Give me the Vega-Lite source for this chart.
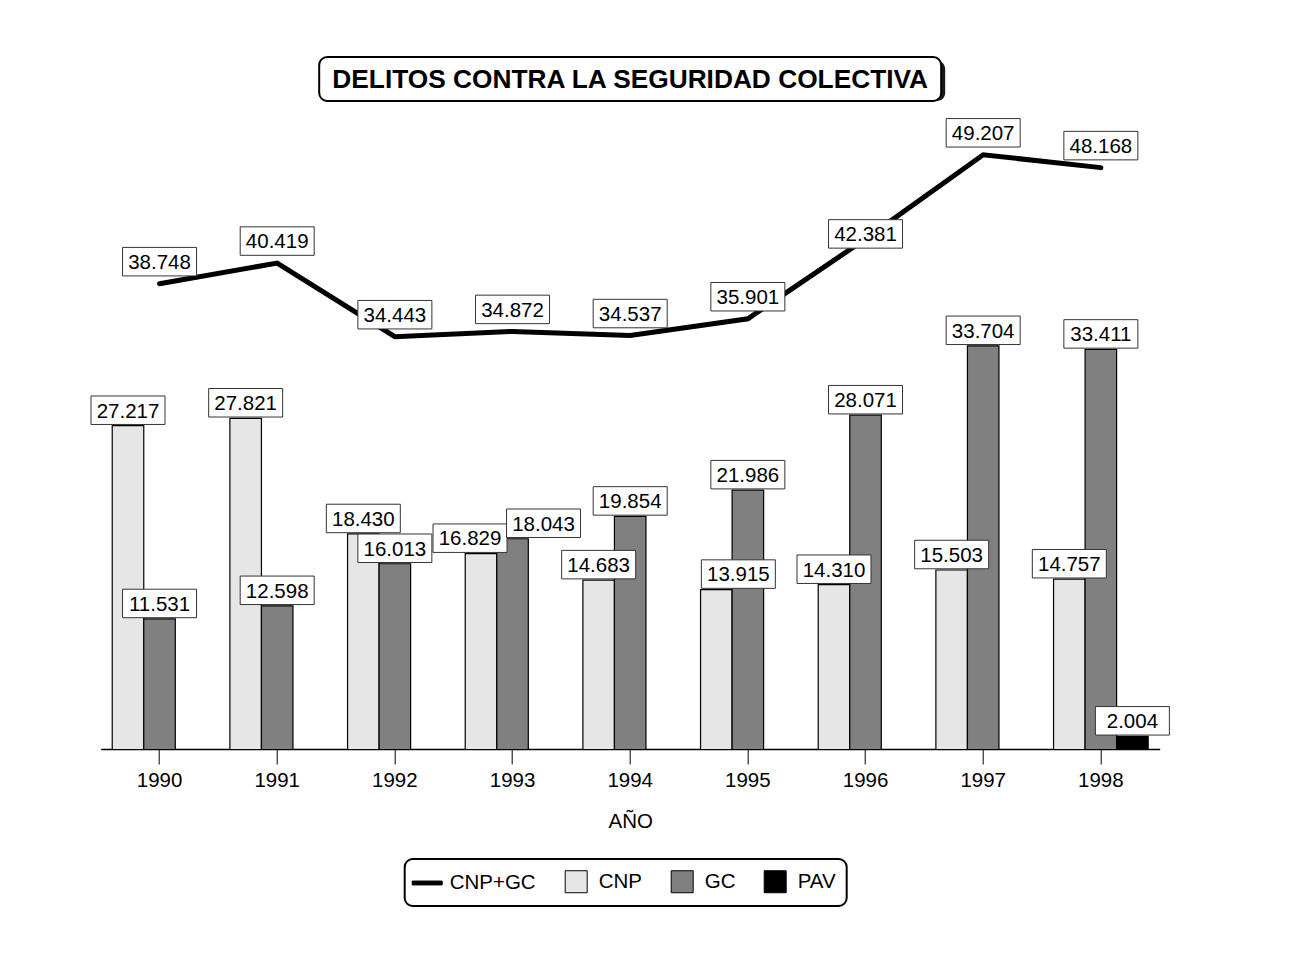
{
  "$schema": "https://vega.github.io/schema/vega-lite/v6.json",
  "background": "white",
  "padding": {"left": 88.7, "top": 56, "right": 10, "bottom": 10},
  "config": {
    "font": "Liberation Sans",
    "view": {"stroke": null},
    "locale": {"number": {"decimal": ",", "thousands": ".", "grouping": [3], "currency": ["", " €"]}}
  },
  "datasets": {
    "delitos": [
      {"year": "1990", "serie": "CNP", "value": 27217},
      {"year": "1991", "serie": "CNP", "value": 27821},
      {"year": "1992", "serie": "CNP", "value": 18430},
      {"year": "1993", "serie": "CNP", "value": 16829},
      {"year": "1994", "serie": "CNP", "value": 14683},
      {"year": "1995", "serie": "CNP", "value": 13915},
      {"year": "1996", "serie": "CNP", "value": 14310},
      {"year": "1997", "serie": "CNP", "value": 15503},
      {"year": "1998", "serie": "CNP", "value": 14757},
      {"year": "1990", "serie": "GC", "value": 11531},
      {"year": "1991", "serie": "GC", "value": 12598},
      {"year": "1992", "serie": "GC", "value": 16013},
      {"year": "1993", "serie": "GC", "value": 18043},
      {"year": "1994", "serie": "GC", "value": 19854},
      {"year": "1995", "serie": "GC", "value": 21986},
      {"year": "1996", "serie": "GC", "value": 28071},
      {"year": "1997", "serie": "GC", "value": 33704},
      {"year": "1998", "serie": "GC", "value": 33411},
      {"year": "1998", "serie": "PAV", "value": 2004},
      {"year": "1990", "serie": "CNP+GC", "value": 38748},
      {"year": "1991", "serie": "CNP+GC", "value": 40419},
      {"year": "1992", "serie": "CNP+GC", "value": 34443},
      {"year": "1993", "serie": "CNP+GC", "value": 34872},
      {"year": "1994", "serie": "CNP+GC", "value": 34537},
      {"year": "1995", "serie": "CNP+GC", "value": 35901},
      {"year": "1996", "serie": "CNP+GC", "value": 42381},
      {"year": "1997", "serie": "CNP+GC", "value": 49207},
      {"year": "1998", "serie": "CNP+GC", "value": 48168}
    ]
  },
  "spacing": 13,
  "center": true,
  "bounds": "flush",
  "vconcat": [
    {
      "width": 622,
      "height": 44,
      "data": {"values": [{"titulo": "DELITOS CONTRA LA SEGURIDAD COLECTIVA"}]},
      "layer": [
        {"mark": {"type": "rect", "fill": "#1a1a1a", "cornerRadius": 8, "xOffset": 4, "x2Offset": 4, "yOffset": 4, "y2Offset": 4}, "encoding": {}},
        {"mark": {"type": "rect", "fill": "white", "stroke": "black", "strokeWidth": 2, "cornerRadius": 8}, "encoding": {}},
        {"mark": {"type": "text", "fontSize": 26.3, "fontWeight": "bold", "font": "Liberation Sans", "baseline": "middle", "align": "center", "color": "black", "yOffset": 1},
         "encoding": {"text": {"field": "titulo"}}}
      ]
    },
    {
      "width": 1059,
      "height": 635,
      "data": {"name": "delitos"},
      "encoding": {
        "x": {"field": "year", "type": "ordinal",
          "scale": {"paddingInner": 0.196, "paddingOuter": 0.098},
          "axis": {"title": "AÑO", "titleFontSize": 20.5, "titleFont": "Liberation Sans", "titleFontWeight": "normal", "titleColor": "black", "titlePadding": 20,
            "labelFontSize": 20.5, "labelFont": "Liberation Sans", "labelColor": "black", "labelAngle": 0, "labelPadding": 7,
            "tickSize": 15, "tickColor": "black", "tickWidth": 1, "domainColor": "black", "domainWidth": 1.5, "grid": false}},
        "y": {"field": "value", "type": "quantitative", "scale": {"domain": [975, 52520], "zero": false, "nice": false}, "axis": null}
      },
      "layer": [
        {
          "transform": [{"filter": "datum.serie !== 'CNP+GC'"}],
          "mark": {"type": "bar", "stroke": "black", "strokeWidth": 1.2, "clip": true},
          "encoding": {
            "xOffset": {"field": "serie", "scale": {"domain": ["CNP", "GC", "PAV"]}},
            "color": {"field": "serie", "type": "nominal",
              "scale": {"domain": ["CNP+GC", "CNP", "GC", "PAV"], "range": ["#000000", "#e6e6e6", "#808080", "#000000"]},
              "legend": {
                "orient": "none", "legendX": 304, "legendY": 802, "direction": "horizontal", "columns": 4, "title": null,
                "labelFontSize": 20.5, "labelFont": "Liberation Sans", "labelColor": "black", "labelOffset": 11,
                "symbolType": "square", "symbolSize": 484, "symbolStrokeColor": "black", "symbolStrokeWidth": 1, "symbolOpacity": 1,
                "columnPadding": 26, "padding": 11, "strokeColor": "black", "fillColor": "white", "cornerRadius": 8,
                "encode": {
                  "symbols": {"update": {
                    "shape": {"signal": "datum.value === 'CNP+GC' ? 'M-1,-0.13L1,-0.13L1,0.13L-1,0.13Z' : 'square'"},
                    "size": {"signal": "datum.value === 'CNP+GC' ? 900 : 484"},
                    "stroke": {"value": "black"},
                    "strokeWidth": {"value": 1}
                  }},
                  "legend": {"update": {"strokeWidth": {"value": 2}}}
                }
              }
            }
          }
        },
        {
          "transform": [{"filter": "datum.serie === 'CNP+GC'"}],
          "mark": {"type": "line", "stroke": "black", "strokeWidth": 5, "strokeJoin": "miter", "strokeCap": "round"},
          "encoding": {}
        },
        {
          "transform": [{"filter": "datum.serie !== 'CNP+GC' && datum.year !== '1993' && !(datum.year === '1995' && datum.serie === 'CNP')"}],
          "mark": {"type": "point", "shape": "M-1,-0.385L1,-0.385L1,0.385L-1,0.385Z", "size": 5476, "filled": true, "fill": "white", "stroke": "#333333", "strokeWidth": 1, "opacity": 1, "yOffset": -15.5},
          "encoding": {"xOffset": {"field": "serie"}}
        },
        {
          "transform": [{"filter": "datum.serie !== 'CNP+GC' && datum.year !== '1993' && !(datum.year === '1995' && datum.serie === 'CNP')"}],
          "mark": {"type": "text", "fontSize": 20.5, "font": "Liberation Sans", "baseline": "alphabetic", "align": "center", "yOffset": -8.2, "color": "black"},
          "encoding": {"xOffset": {"field": "serie"}, "text": {"field": "value", "type": "quantitative", "format": ",d"}}
        },
        {
          "transform": [{"filter": "datum.year === '1993' && datum.serie === 'CNP'"}],
          "mark": {"type": "point", "shape": "M-1,-0.385L1,-0.385L1,0.385L-1,0.385Z", "size": 5476, "filled": true, "fill": "white", "stroke": "#333333", "strokeWidth": 1, "opacity": 1, "yOffset": -15.5, "xOffset": -42.5},
          "encoding": {}
        },
        {
          "transform": [{"filter": "datum.year === '1993' && datum.serie === 'CNP'"}],
          "mark": {"type": "text", "fontSize": 20.5, "font": "Liberation Sans", "baseline": "alphabetic", "align": "center", "yOffset": -8.2, "xOffset": -42.5, "color": "black"},
          "encoding": {"text": {"field": "value", "type": "quantitative", "format": ",d"}}
        },
        {
          "transform": [{"filter": "datum.year === '1993' && datum.serie === 'GC'"}],
          "mark": {"type": "point", "shape": "M-1,-0.385L1,-0.385L1,0.385L-1,0.385Z", "size": 5476, "filled": true, "fill": "white", "stroke": "#333333", "strokeWidth": 1, "opacity": 1, "yOffset": -15.5, "xOffset": 31},
          "encoding": {}
        },
        {
          "transform": [{"filter": "datum.year === '1993' && datum.serie === 'GC'"}],
          "mark": {"type": "text", "fontSize": 20.5, "font": "Liberation Sans", "baseline": "alphabetic", "align": "center", "yOffset": -8.2, "xOffset": 31, "color": "black"},
          "encoding": {"text": {"field": "value", "type": "quantitative", "format": ",d"}}
        },
        {
          "transform": [{"filter": "datum.year === '1995' && datum.serie === 'CNP'"}],
          "mark": {"type": "point", "shape": "M-1,-0.385L1,-0.385L1,0.385L-1,0.385Z", "size": 5476, "filled": true, "fill": "white", "stroke": "#333333", "strokeWidth": 1, "opacity": 1, "yOffset": -15.5, "xOffset": -9.5},
          "encoding": {}
        },
        {
          "transform": [{"filter": "datum.year === '1995' && datum.serie === 'CNP'"}],
          "mark": {"type": "text", "fontSize": 20.5, "font": "Liberation Sans", "baseline": "alphabetic", "align": "center", "yOffset": -8.2, "xOffset": -9.5, "color": "black"},
          "encoding": {"text": {"field": "value", "type": "quantitative", "format": ",d"}}
        },
        {
          "transform": [{"filter": "datum.serie === 'CNP+GC' && datum.year !== '1996'"}],
          "mark": {"type": "point", "shape": "M-1,-0.385L1,-0.385L1,0.385L-1,0.385Z", "size": 5476, "filled": true, "fill": "white", "stroke": "#333333", "strokeWidth": 1, "opacity": 1, "yOffset": -22},
          "encoding": {}
        },
        {
          "transform": [{"filter": "datum.serie === 'CNP+GC' && datum.year !== '1996'"}],
          "mark": {"type": "text", "fontSize": 20.5, "font": "Liberation Sans", "baseline": "alphabetic", "align": "center", "yOffset": -14.7, "color": "black"},
          "encoding": {"text": {"field": "value", "type": "quantitative", "format": ",d"}}
        },
        {
          "transform": [{"filter": "datum.serie === 'CNP+GC' && datum.year === '1996'"}],
          "mark": {"type": "point", "shape": "M-1,-0.385L1,-0.385L1,0.385L-1,0.385Z", "size": 5476, "filled": true, "fill": "white", "stroke": "#333333", "strokeWidth": 1, "opacity": 1, "yOffset": -5},
          "encoding": {}
        },
        {
          "transform": [{"filter": "datum.serie === 'CNP+GC' && datum.year === '1996'"}],
          "mark": {"type": "text", "fontSize": 20.5, "font": "Liberation Sans", "baseline": "alphabetic", "align": "center", "yOffset": 2.3, "color": "black"},
          "encoding": {"text": {"field": "value", "type": "quantitative", "format": ",d"}}
        }
      ]
    }
  ]
}
